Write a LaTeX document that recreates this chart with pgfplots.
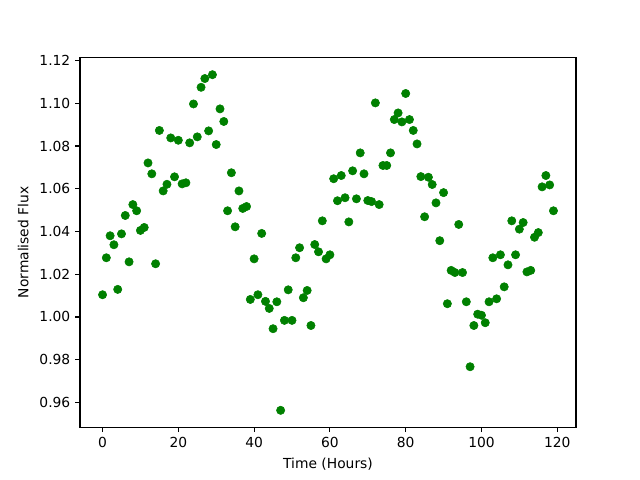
\documentclass[border=0pt]{standalone}
\usepackage{pgfplots}
\pgfplotsset{compat=1.18}
\usepackage{fontspec}
\setmainfont{DejaVu Sans}
\definecolor{mplgreen}{RGB}{0,128,0}
\begin{document}
\fontsize{10pt}{12pt}\selectfont
\begin{tikzpicture}
\begin{axis}[
  scale only axis,
  width=4.96in, height=3.696in,
  xmin=-5.95, xmax=124.95,
  ymin=0.9484, ymax=1.1214,
  xtick={0,20,40,60,80,100,120},
  ytick={0.96,0.98,1.00,1.02,1.04,1.06,1.08,1.10,1.12},
  yticklabel style={/pgf/number format/.cd, fixed, fixed zerofill, precision=2},
  /pgf/number format/assume math mode=true,
  tick align=outside,
  xtick pos=bottom, ytick pos=left,
  major tick length=3.5pt,
  every tick/.style={black, line width=0.8pt},
  axis line style={line width=0.8pt},
  tick label style={font=\fontsize{10pt}{12pt}\selectfont},
  label style={font=\fontsize{10pt}{12pt}\selectfont},
  xlabel={Time (Hours)},
  ylabel={Normalised Flux},
  xlabel style={yshift=-1pt},
  ylabel style={yshift=1pt},
]
\addplot[only marks, mark=*, mark size=3pt, mplgreen, mark options={draw=mplgreen, fill=mplgreen}] table {
x y
0 1.0104
1 1.0277
2 1.0380
3 1.0338
4 1.0129
5 1.0389
6 1.0475
7 1.0258
8 1.0526
9 1.0497
10 1.0405
11 1.0419
12 1.0721
13 1.0670
14 1.0249
15 1.0873
16 1.0590
17 1.0621
18 1.0838
19 1.0656
20 1.0827
21 1.0623
22 1.0628
23 1.0815
24 1.0997
25 1.0843
26 1.1075
27 1.1116
28 1.0871
29 1.1134
30 1.0807
31 1.0974
32 1.0915
33 1.0497
34 1.0675
35 1.0422
36 1.0590
37 1.0508
38 1.0517
39 1.0082
40 1.0272
41 1.0104
42 1.0391
43 1.0073
44 1.0040
45 0.9945
46 1.0071
47 0.9563
48 0.9984
49 1.0127
50 0.9984
51 1.0277
52 1.0324
53 1.0090
54 1.0124
55 0.9960
56 1.0339
57 1.0305
58 1.0450
59 1.0272
60 1.0291
61 1.0647
62 1.0544
63 1.0662
64 1.0558
65 1.0445
66 1.0684
67 1.0553
68 1.0768
69 1.0670
70 1.0545
71 1.0540
72 1.1002
73 1.0526
74 1.0709
75 1.0709
76 1.0768
77 1.0924
78 1.0955
79 1.0913
80 1.1046
81 1.0924
82 1.0873
83 1.0810
84 1.0657
85 1.0469
86 1.0654
87 1.0620
88 1.0534
89 1.0357
90 1.0582
91 1.0062
92 1.0218
93 1.0208
94 1.0433
95 1.0208
96 1.0071
97 0.9767
98 0.9960
99 1.0013
100 1.0008
101 0.9973
102 1.0071
103 1.0277
104 1.0085
105 1.0291
106 1.0141
107 1.0244
108 1.0450
109 1.0291
110 1.0411
111 1.0442
112 1.0211
113 1.0218
114 1.0373
115 1.0395
116 1.0609
117 1.0662
118 1.0618
119 1.0497
};
\end{axis}
\path[use as bounding box] (-0.8in,-0.528in) rectangle (5.6in,4.272in);
\end{tikzpicture}
\end{document}
